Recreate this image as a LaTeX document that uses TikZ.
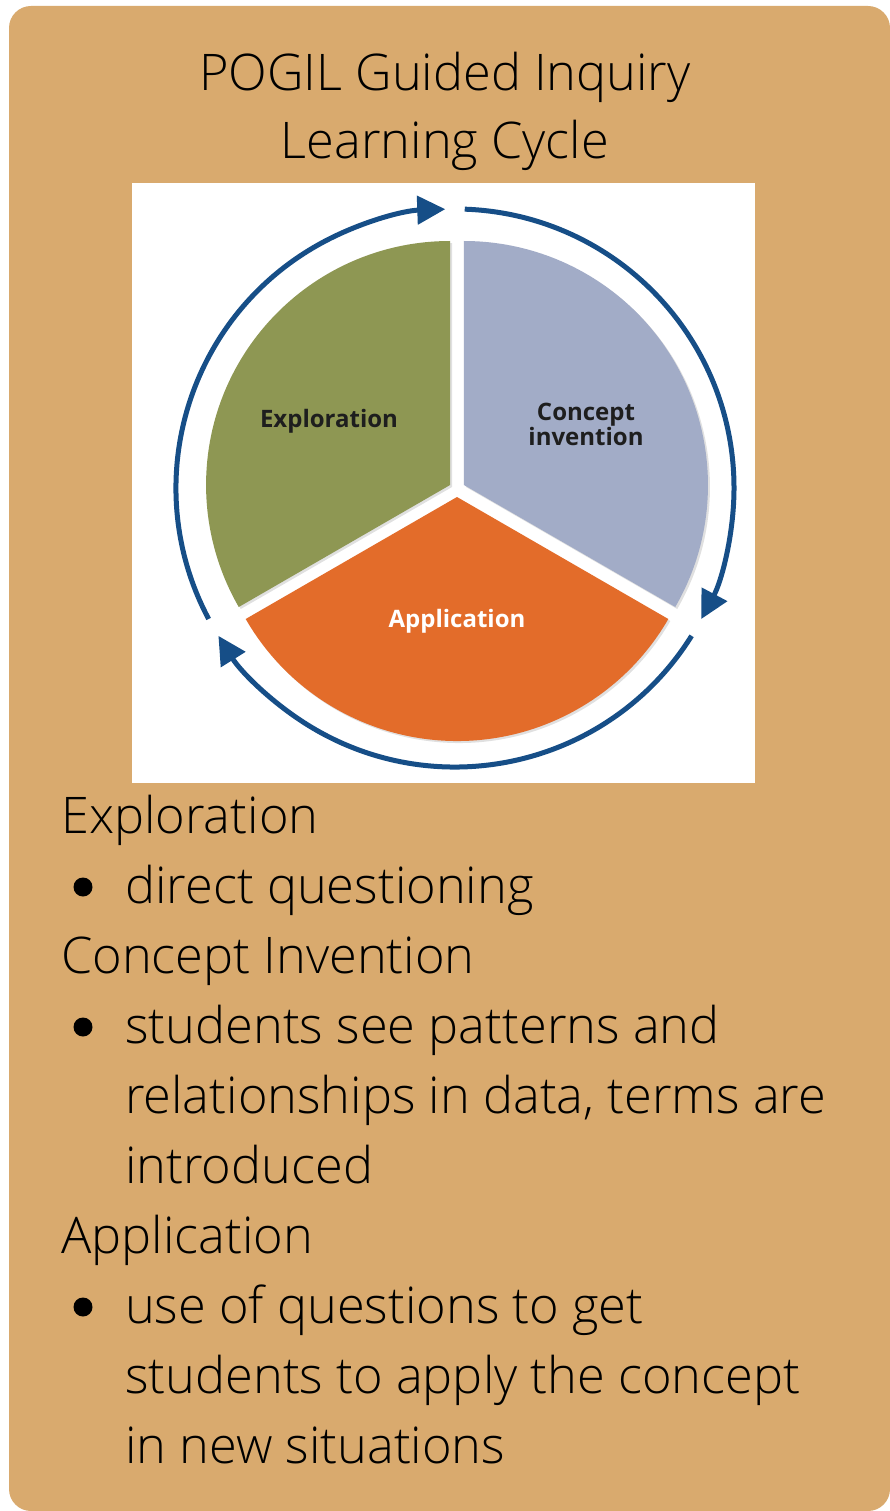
\documentclass[tikz,border=0pt]{standalone}
\usepackage{fontspec}
\setmainfont{Open Sans}[UprightFont=* Light]
\newfontfamily\labelfont{Open Sans}
\usetikzlibrary{arrows.meta}

\definecolor{panel}{RGB}{217,170,110}
\definecolor{explgreen}{RGB}{142,151,83}
\definecolor{conclav}{RGB}{162,172,199}
\definecolor{applorange}{RGB}{227,108,42}
\definecolor{ringblue}{RGB}{22,78,135}
\definecolor{darktext}{RGB}{30,30,30}

\tikzset{
  titletext/.style={anchor=base, inner sep=0pt, font=\fontsize{50.5}{68}\selectfont},
  bodytext/.style={anchor=base west, inner sep=0pt, font=\fontsize{50.5}{70}\selectfont},
  bulletdot/.style={circle, fill=black, inner sep=0pt, minimum size=19pt},
  wedgelabel/.style={inner sep=0pt, align=center, font=\labelfont\bfseries\fontsize{24}{21}\selectfont},
  ring/.style={draw=ringblue, line width=5pt, -{Triangle[length=28pt,width=28pt]}},
  wedgeshadow/.style={fill=black, opacity=0.12},
}

\begin{document}
\begin{tikzpicture}[x=1pt,y=-1pt]
\useasboundingbox (0,0) rectangle (890,1511);
\fill[white] (0,0) rectangle (890,1511);
\fill[panel, rounded corners=22pt] (9,6) rectangle (890,1511);

% heading
\node[titletext] (title1) at (445,91) {POGIL Guided Inquiry};
\node[titletext] (title2) at (445,159) {Learning Cycle};

% white card holding the cycle
\fill[white] (132,183) rectangle (755,783);

% three-stage cycle, drawn with the y axis pointing up
\begin{scope}[shift={(457,489)}, yscale=-1]
  % soft shadows under the wedges
  \fill[wedgeshadow] (150:8) ++(2,-2) -- ++(90:244) arc[start angle=90, end angle=210, radius=244] -- cycle;
  \fill[wedgeshadow] (30:8) ++(2,-2) -- ++(-30:244) arc[start angle=-30, end angle=90, radius=244] -- cycle;
  \fill[wedgeshadow] (270:8) ++(2,-2) -- ++(210:244) arc[start angle=210, end angle=330, radius=244] -- cycle;
  % wedges
  \fill[explgreen] (150:8) -- ++(90:244) arc[start angle=90, end angle=210, radius=244] -- cycle;
  \fill[conclav] (30:8) -- ++(-30:244) arc[start angle=-30, end angle=90, radius=244] -- cycle;
  \fill[applorange] (270:8) -- ++(210:244) arc[start angle=210, end angle=330, radius=244] -- cycle;
  % circulating arrows
  \begin{scope}[shift={(-2,1)}]
    \draw[ring] (208:279) arc[start angle=208, end angle=92, radius=279];
    \draw[ring] (88:279) arc[start angle=88, end angle=-28, radius=279];
    \draw[ring] (-32:279) arc[start angle=-32, end angle=-148, radius=279];
  \end{scope}
\end{scope}

% wedge labels
\node[wedgelabel, text=darktext] (lblexpl) at (329,421) {Exploration};
\node[wedgelabel, text=darktext] (lblconc) at (586,424) {Concept\\invention};
\node[wedgelabel, text=white] (lblappl) at (457,621) {Application};

% stage descriptions
\node[bodytext] (h1) at (61,833) {Exploration};
\node[bulletdot] (b1) at (83,887) {};
\node[bodytext] (t1) at (125,903) {direct questioning};

\node[bodytext] (h2) at (61,973) {Concept Invention};
\node[bulletdot] (b2) at (83,1027) {};
\node[bodytext] (t2a) at (125,1043) {students see patterns and};
\node[bodytext] (t2b) at (125,1113) {relationships in data, terms are};
\node[bodytext] (t2c) at (125,1183) {introduced};

\node[bodytext] (h3) at (61,1253) {Application};
\node[bulletdot] (b3) at (83,1307) {};
\node[bodytext] (t3a) at (125,1323) {use of questions to get};
\node[bodytext] (t3b) at (125,1393) {students to apply the concept};
\node[bodytext] (t3c) at (125,1463) {in new situations};
\end{tikzpicture}
\end{document}
